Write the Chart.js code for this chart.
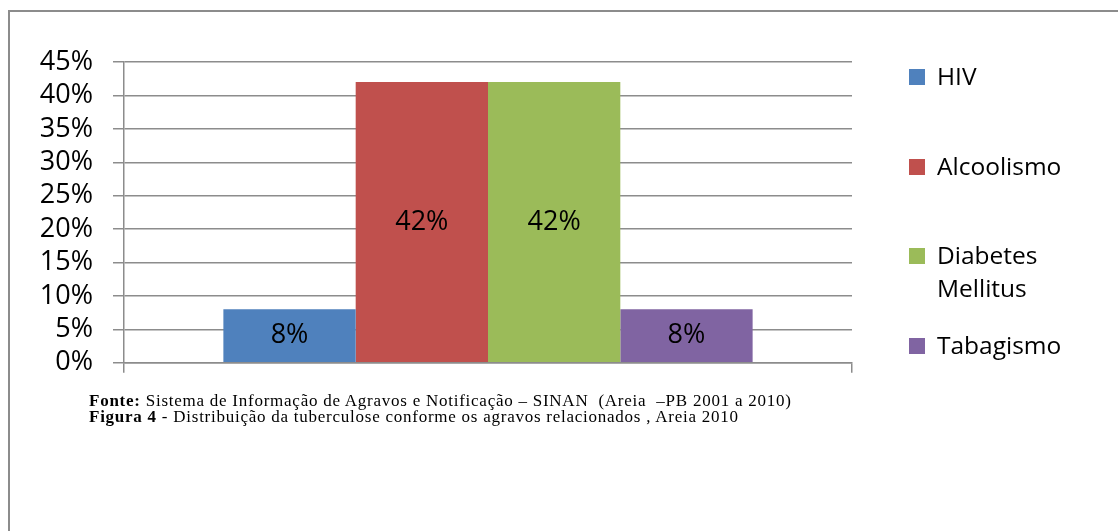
<!DOCTYPE html>
<html>
<head>
<meta charset="utf-8">
<script src="https://cdn.jsdelivr.net/npm/chart.js@4.4.1/dist/chart.umd.min.js"></script>
<style>
  html, body { margin: 0; padding: 0; background: #fff; }
  body { width: 1118px; height: 531px; position: relative; overflow: hidden; font-family: "Open Sans", sans-serif; }
  .frame { position: absolute; left: 8px; top: 10px; width: 1120px; height: 530px; border-top: 2px solid #8c8c8c; border-left: 2px solid #8c8c8c; }
  .wrap { position: absolute; left: 0; top: 0; width: 1118px; height: 399px; }
  #legend { position: absolute; left: 909px; top: 0; }
  .item { position: absolute; left: 0; white-space: nowrap; font-size: 24.5px; line-height: 33px; color: #000; }
  .item .sw { position: absolute; left: 0; top: 10px; width: 16px; height: 16px; }
  .item .tx { position: absolute; left: 28px; top: 0; }
  .caption { position: absolute; left: 89px; top: 393px; font-family: "Liberation Serif", serif; font-size: 17px; line-height: 16px; letter-spacing: 0.75px; white-space: nowrap; color: #000; }
</style>
</head>
<body>
<div class="frame"></div>
<div class="wrap"><canvas id="chart"></canvas></div>
<div id="legend"></div>
<div class="caption">
  <div><b>Fonte:</b> Sistema de Informação de Agravos e Notificação – SINAN &nbsp;(Areia &nbsp;–PB 2001 a 2010)</div>
  <div><b>Figura 4</b> - Distribuição da tuberculose conforme os agravos relacionados , Areia 2010</div>
</div>
<script>
// dados do gráfico
const categories = [''];
const seriesNames = ['HIV', 'Alcoolismo', 'Diabetes Mellitus', 'Tabagismo'];
const seriesValues = [8, 42, 42, 8];
const seriesColors = ['#4F81BD', '#C0504D', '#9BBB59', '#8064A2'];
const yTicks = [0, 5, 10, 15, 20, 25, 30, 35, 40, 45];

// rótulos de valor no meio de cada barra
const barLabels = {
    id: 'barLabels',
    afterDatasetsDraw(chart) {
        const ctx = chart.ctx;
        ctx.save();
        ctx.font = '27px "Open Sans"';
        ctx.fillStyle = '#000';
        ctx.textAlign = 'center';
        ctx.textBaseline = 'middle';
        chart.data.datasets.forEach((ds, i) => {
            chart.getDatasetMeta(i).data.forEach((bar, j) => {
                const y = (bar.y + bar.base) / 2;
                ctx.fillText(ds.data[j] + '%', bar.x, y);
            });
        });
        ctx.restore();
    }
};

const ctx = document.getElementById('chart').getContext('2d');
const chart = new Chart(ctx, {
    type: 'bar',
    data: {
        labels: categories,
        datasets: seriesNames.map((name, i) => ({
            label: name,
            data: [seriesValues[i]],
            backgroundColor: seriesColors[i],
            borderWidth: 0,
            categoryPercentage: 0.727,
            barPercentage: 1
        }))
    },
    options: {
        responsive: true,
        maintainAspectRatio: false,
        animation: false,
        layout: { padding: { top: 62, right: 266, left: 0, bottom: 0 } },
        plugins: {
            legend: { display: false },
            tooltip: { enabled: false }
        },
        scales: {
            x: {
                afterFit: (scale) => { scale.height = 18; },
                grid: { offset: true, drawOnChartArea: false, drawTicks: true, tickLength: 10, color: '#8c8c8c', lineWidth: 1.5 },
                border: { color: '#8c8c8c', width: 1.5 },
                ticks: { display: false }
            },
            y: {
                min: 0,
                max: 45,
                afterFit: (scale) => { scale.width = 124; },
                afterBuildTicks: (scale) => { scale.ticks = yTicks.map(v => ({ value: v })); },
                grid: { color: '#8c8c8c', lineWidth: 1.5, tickLength: 11 },
                border: { color: '#8c8c8c', width: 1.5 },
                ticks: {
                    padding: 20,
                    color: '#000',
                    font: { family: 'Open Sans', size: 27 },
                    callback: (v) => v + '%'
                }
            }
        }
    },
    plugins: [barLabels]
});

// legenda em HTML a partir das séries
const legendTops = [59, 149, 238, 328];
const legendEl = document.getElementById('legend');
seriesNames.forEach((name, i) => {
    const item = document.createElement('div');
    item.className = 'item';
    item.style.top = legendTops[i] + 'px';
    const parts = name === 'Diabetes Mellitus' ? ['Diabetes', 'Mellitus'] : [name];
    item.innerHTML = '<span class="sw" style="background:' + seriesColors[i] + '"></span>' +
        '<span class="tx">' + parts.join('<br>') + '</span>';
    legendEl.appendChild(item);
});
</script>
</body>
</html>
